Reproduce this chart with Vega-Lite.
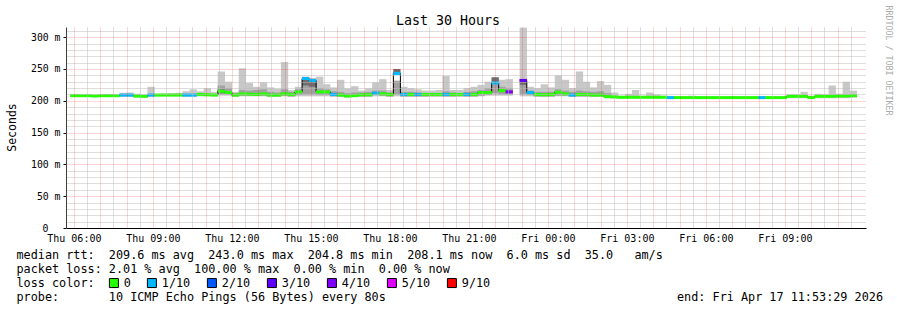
{
  "$schema": "https://vega.github.io/schema/vega-lite/v6.json",
  "width": 800,
  "height": 201,
  "autosize": {"type": "none"},
  "padding": {"left": 66, "top": 27, "right": 31, "bottom": 82},
  "background": "white",
  "title": {"text": "Last 30 Hours", "font": "DejaVu Sans Mono", "fontSize": 13.3, "fontWeight": "normal", "color": "#000000", "anchor": "middle", "frame": "group", "dx": -18, "dy": 24, "offset": 2},
  "config": {"view": {"stroke": null}},
  "data": {"values": [
    {"m":360,"med":208,"lo":206,"hi":210,"l":"0"},
    {"m":376,"med":208,"lo":206,"hi":209,"l":"0"},
    {"m":392,"med":208,"lo":206,"hi":209,"l":"0"},
    {"m":408,"med":207.5,"lo":206,"hi":209,"l":"0"},
    {"m":424,"med":208,"lo":206,"hi":209,"l":"0"},
    {"m":440,"med":208,"lo":206,"hi":210.5,"l":"0"},
    {"m":456,"med":208,"lo":206,"hi":209,"l":"0"},
    {"m":472,"med":209,"lo":206,"hi":212.5,"l":"1/10"},
    {"m":488,"med":209,"lo":206,"hi":213,"l":"1/10"},
    {"m":504,"med":207.5,"lo":205,"hi":211,"l":"0"},
    {"m":520,"med":207,"lo":205,"hi":210,"l":"0"},
    {"m":536,"med":209,"lo":206,"hi":222,"l":"1/10"},
    {"m":552,"med":209,"lo":207,"hi":211,"l":"0"},
    {"m":568,"med":209,"lo":207,"hi":211.5,"l":"0"},
    {"m":584,"med":209,"lo":207,"hi":212,"l":"0"},
    {"m":600,"med":209,"lo":207,"hi":212.5,"l":"0"},
    {"m":616,"med":209,"lo":206,"hi":215,"l":"1/10"},
    {"m":632,"med":209,"lo":206,"hi":218,"l":"1/10"},
    {"m":648,"med":210,"lo":207,"hi":215,"l":"0"},
    {"m":664,"med":209.5,"lo":207,"hi":220,"l":"0"},
    {"m":680,"med":209,"lo":207,"hi":214,"l":"0"},
    {"m":696,"med":215,"lo":208,"hi":246,"mlo":210,"mhi":224,"clo":212,"chi":218,"l":"0"},
    {"m":712,"med":213,"lo":208,"hi":230,"mlo":210,"mhi":220,"l":"0"},
    {"m":728,"med":209,"lo":206,"hi":214,"mlo":207,"mhi":212,"l":"0"},
    {"m":744,"med":211,"lo":207,"hi":251,"mlo":208,"mhi":217,"l":"0"},
    {"m":760,"med":210.5,"lo":207,"hi":228,"mlo":208,"mhi":216,"l":"0"},
    {"m":776,"med":210,"lo":207,"hi":222,"mlo":208,"mhi":217,"l":"0"},
    {"m":792,"med":211,"lo":207,"hi":229,"mlo":208,"mhi":218,"l":"0"},
    {"m":808,"med":209,"lo":206,"hi":221,"mlo":207,"mhi":214,"l":"0"},
    {"m":824,"med":209,"lo":206,"hi":219,"mlo":207,"mhi":213,"l":"0"},
    {"m":840,"med":211,"lo":207,"hi":261,"mlo":208,"mhi":218,"l":"0"},
    {"m":856,"med":210,"lo":206,"hi":217,"mlo":207,"mhi":214,"l":"0"},
    {"m":872,"med":214,"lo":207,"hi":222,"mlo":209,"mhi":218,"l":"0"},
    {"m":888,"med":235,"lo":207,"hi":238,"mlo":210,"mhi":232,"clo":224,"chi":233,"l":"1/10"},
    {"m":904,"med":232,"lo":207,"hi":236,"mlo":210,"mhi":230,"clo":222,"chi":231,"l":"1/10"},
    {"m":920,"med":214,"lo":207,"hi":238,"mlo":209,"mhi":220,"l":"0"},
    {"m":936,"med":214,"lo":207,"hi":226,"mlo":209,"mhi":218,"l":"0"},
    {"m":952,"med":210,"lo":206,"hi":221,"mlo":208,"mhi":215,"l":"1/10"},
    {"m":968,"med":209,"lo":206,"hi":233,"mlo":207,"mhi":214,"l":"0"},
    {"m":984,"med":207.5,"lo":205,"hi":219.5,"mlo":206,"mhi":212,"l":"0"},
    {"m":1000,"med":208,"lo":206,"hi":223,"mlo":207,"mhi":213,"l":"0"},
    {"m":1016,"med":209.5,"lo":206,"hi":216,"mlo":207,"mhi":213,"l":"0"},
    {"m":1032,"med":209.5,"lo":206,"hi":219.5,"mlo":207,"mhi":214,"l":"0"},
    {"m":1048,"med":212,"lo":207,"hi":229,"mlo":209,"mhi":216,"l":"1/10"},
    {"m":1064,"med":211,"lo":207,"hi":234,"mlo":208,"mhi":216,"l":"0"},
    {"m":1080,"med":210,"lo":206,"hi":217,"mlo":207,"mhi":213,"l":"0"},
    {"m":1096,"med":243,"lo":207,"hi":232,"mlo":210,"mhi":231,"clo":243,"chi":250,"l":"1/10"},
    {"m":1112,"med":210,"lo":206,"hi":222,"mlo":207,"mhi":214,"l":"1/10"},
    {"m":1128,"med":210,"lo":206,"hi":220,"mlo":207,"mhi":214,"l":"0"},
    {"m":1144,"med":210,"lo":206,"hi":218,"mlo":207,"mhi":213,"l":"1/10"},
    {"m":1160,"med":210,"lo":206,"hi":216,"mlo":207,"mhi":212,"l":"0"},
    {"m":1176,"med":210,"lo":206,"hi":216,"l":"0"},
    {"m":1192,"med":210,"lo":206,"hi":217,"l":"0"},
    {"m":1208,"med":210,"lo":206,"hi":239,"mlo":207,"mhi":215,"l":"1/10"},
    {"m":1224,"med":210,"lo":206,"hi":217,"mlo":207,"mhi":213,"l":"0"},
    {"m":1240,"med":210,"lo":206,"hi":217,"l":"0"},
    {"m":1256,"med":210,"lo":206,"hi":220,"mlo":207,"mhi":214,"l":"1/10"},
    {"m":1272,"med":210,"lo":206,"hi":222,"mlo":207,"mhi":215,"l":"0"},
    {"m":1288,"med":213,"lo":207,"hi":225,"mlo":208,"mhi":217,"l":"0"},
    {"m":1304,"med":213,"lo":208,"hi":230,"mlo":209,"mhi":220,"l":"0"},
    {"m":1320,"med":228,"lo":208,"hi":236,"mlo":212,"mhi":226,"clo":230,"chi":237,"l":"1/10"},
    {"m":1336,"med":216,"lo":208,"hi":233,"mlo":210,"mhi":222,"l":"0"},
    {"m":1352,"med":214,"lo":208,"hi":234,"mlo":210,"mhi":220,"l":"4/10"},
    {"m":1368,"med":null,"l":null},
    {"m":1384,"med":232,"lo":207,"hi":315,"mlo":210,"mhi":225,"clo":225,"chi":234,"l":"3/10"},
    {"m":1400,"med":213,"lo":207,"hi":222,"mlo":209,"mhi":216,"l":"1/10"},
    {"m":1416,"med":210,"lo":206,"hi":220,"mlo":207,"mhi":214,"l":"0"},
    {"m":1432,"med":209.5,"lo":206,"hi":226,"mlo":207,"mhi":214,"l":"0"},
    {"m":1448,"med":210,"lo":206,"hi":221,"mlo":207,"mhi":214,"l":"0"},
    {"m":1464,"med":213.5,"lo":207,"hi":240,"mlo":208,"mhi":218,"l":"0"},
    {"m":1480,"med":211,"lo":207,"hi":233,"mlo":208,"mhi":216,"l":"0"},
    {"m":1496,"med":209,"lo":206,"hi":220,"mlo":207,"mhi":214,"l":"1/10"},
    {"m":1512,"med":210,"lo":206,"hi":246,"mlo":207,"mhi":216,"l":"0"},
    {"m":1528,"med":210,"lo":206,"hi":230,"mlo":207,"mhi":215,"l":"0"},
    {"m":1544,"med":209,"lo":206,"hi":221,"mlo":207,"mhi":214,"l":"0"},
    {"m":1560,"med":209,"lo":206,"hi":231,"mlo":207,"mhi":215,"l":"0"},
    {"m":1576,"med":206.5,"lo":204,"hi":225,"mlo":205,"mhi":212,"l":"0"},
    {"m":1592,"med":206,"lo":204,"hi":213,"l":"0"},
    {"m":1608,"med":205.5,"lo":204,"hi":208,"l":"0"},
    {"m":1624,"med":205.5,"lo":204,"hi":211,"l":"0"},
    {"m":1640,"med":205.5,"lo":204,"hi":217,"l":"0"},
    {"m":1656,"med":205.5,"lo":204,"hi":208,"l":"0"},
    {"m":1672,"med":205.5,"lo":204,"hi":213,"l":"0"},
    {"m":1688,"med":205.5,"lo":204,"hi":210,"l":"0"},
    {"m":1704,"med":205.5,"lo":204,"hi":208,"l":"0"},
    {"m":1720,"med":205,"lo":204,"hi":207,"l":"1/10"},
    {"m":1736,"med":205,"lo":204,"hi":207,"l":"0"},
    {"m":1752,"med":205,"lo":204,"hi":207,"l":"0"},
    {"m":1768,"med":205,"lo":204,"hi":208,"l":"0"},
    {"m":1784,"med":205,"lo":204,"hi":207,"l":"0"},
    {"m":1800,"med":205,"lo":204,"hi":207,"l":"0"},
    {"m":1816,"med":205,"lo":204,"hi":207,"l":"0"},
    {"m":1832,"med":205,"lo":204,"hi":207,"l":"0"},
    {"m":1848,"med":205,"lo":204,"hi":207,"l":"0"},
    {"m":1864,"med":205,"lo":204,"hi":207.5,"l":"0"},
    {"m":1880,"med":205,"lo":204,"hi":207,"l":"0"},
    {"m":1896,"med":205,"lo":204,"hi":207,"l":"0"},
    {"m":1912,"med":205,"lo":204,"hi":207,"l":"0"},
    {"m":1928,"med":205,"lo":204,"hi":207,"l":"1/10"},
    {"m":1944,"med":205,"lo":204,"hi":207,"l":"0"},
    {"m":1960,"med":205,"lo":204,"hi":207,"l":"0"},
    {"m":1976,"med":205,"lo":204,"hi":207,"l":"0"},
    {"m":1992,"med":207,"lo":204,"hi":210,"l":"0"},
    {"m":2008,"med":207,"lo":204,"hi":210,"l":"0"},
    {"m":2024,"med":207,"lo":204,"hi":214,"l":"0"},
    {"m":2040,"med":205,"lo":204,"hi":208,"l":"0"},
    {"m":2056,"med":207,"lo":204,"hi":211,"l":"0"},
    {"m":2072,"med":207,"lo":204,"hi":210,"l":"0"},
    {"m":2088,"med":207,"lo":204,"hi":224,"l":"0"},
    {"m":2104,"med":207.5,"lo":204,"hi":211,"l":"0"},
    {"m":2120,"med":207.5,"lo":204,"hi":230,"l":"0"},
    {"m":2136,"med":208,"lo":205,"hi":216,"l":"0"}
  ]},
  "resolve": {"axis": {"x": "independent", "y": "independent"}},
  "layer": [
    {
      "mark": {"type": "bar", "width": 7.3, "color": "#c8c8c8", "opacity": 1, "clip": true},
      "encoding": {
        "x": {"field": "m", "type": "quantitative", "scale": {"domain": [353.48, 2153.48], "nice": false, "zero": false},
          "axis": {"orient": "bottom", "values": [390,450,510,570,630,690,750,810,870,930,990,1050,1110,1170,1230,1290,1350,1410,1470,1530,1590,1650,1710,1770,1830,1890,1950,2010,2070,2130],
            "grid": true, "gridColor": "#bcbcbc", "gridDash": [1, 1], "gridWidth": 1, "labels": false, "ticks": false, "domain": false, "title": null, "zindex": 1}},
        "y": {"field": "lo", "type": "quantitative", "scale": {"domain": [0, 316], "nice": false, "zero": true},
          "axis": {"orient": "left", "values": [10,20,30,40,60,70,80,90,110,120,130,140,160,170,180,190,210,220,230,240,260,270,280,290,310],
            "grid": true, "gridColor": "#bcbcbc", "gridDash": [1, 1], "gridWidth": 1, "labels": false, "ticks": false, "domain": false, "title": null, "zindex": 1}},
        "y2": {"field": "hi"}
      }
    },
    {
      "mark": {"type": "bar", "width": 7.3, "color": "#a2a2a2", "opacity": 1, "clip": true},
      "encoding": {
        "x": {"field": "m", "type": "quantitative",
          "axis": {"orient": "bottom", "values": [360,420,480,540,600,660,720,780,840,900,960,1020,1080,1140,1200,1260,1320,1380,1440,1500,1560,1620,1680,1740,1800,1860,1920,1980,2040,2100],
            "grid": true, "gridColor": "#ff0000", "gridOpacity": 0.32, "gridDash": [1, 1], "gridWidth": 1,
            "ticks": false, "labelPadding": 5, "labelFont": "DejaVu Sans Mono", "labelFontSize": 10, "labelColor": "#000000", "labelOverlap": false, "labelFlush": false,
            "labelExpr": "datum.value % 180 == 0 ? (datum.value < 1440 ? 'Thu ' : 'Fri ') + (floor((datum.value % 1440) / 60) < 10 ? '0' : '') + floor((datum.value % 1440) / 60) + ':00' : ''",
            "domainColor": "#000000", "domainWidth": 1,
            "title": ["median rtt:\u00a0\u00a0209.6 ms avg\u00a0\u00a0243.0 ms max\u00a0\u00a0204.8 ms min\u00a0\u00a0208.1 ms now\u00a0\u00a06.0 ms sd\u00a0\u00a035.0\u00a0\u00a0\u00a0am/s",
                      "packet loss: 2.01 % avg\u00a0\u00a0100.00 % max\u00a0\u00a00.00 % min\u00a0\u00a00.00 % now",
                      "loss color:",
                      "probe:\u00a0\u00a0\u00a0\u00a0\u00a0\u00a0\u00a010 ICMP Echo Pings (56 Bytes) every 80s\u00a0\u00a0\u00a0\u00a0\u00a0\u00a0\u00a0\u00a0\u00a0\u00a0\u00a0\u00a0\u00a0\u00a0\u00a0\u00a0\u00a0\u00a0\u00a0\u00a0\u00a0\u00a0\u00a0\u00a0\u00a0\u00a0\u00a0\u00a0\u00a0\u00a0\u00a0\u00a0\u00a0\u00a0\u00a0\u00a0\u00a0\u00a0\u00a0\u00a0\u00a0end: Fri Apr 17 11:53:29 2026"],
            "titleFont": "DejaVu Sans Mono", "titleFontSize": 11.8, "titleFontWeight": "normal", "titleColor": "#000000",
            "titleAlign": "left", "titleBaseline": "alphabetic", "titleX": -50, "titleY": 30, "titleLineHeight": 14, "titleLimit": 2000,
            "zindex": 2}},
        "y": {"field": "mlo", "type": "quantitative",
          "axis": {"orient": "left", "values": [0,50,100,150,200,250,300],
            "grid": true, "gridColor": "#ff0000", "gridOpacity": {"condition": {"test": "datum.value === 0", "value": 0}, "value": 0.32}, "gridDash": [1, 1], "gridWidth": 1,
            "ticks": true, "tickSize": 3, "tickColor": "#000000",
            "labelPadding": {"condition": {"test": "datum.value === 0", "value": 15}, "value": 3},
            "labelFont": "DejaVu Sans Mono", "labelFontSize": 9.8, "labelColor": "#000000",
            "labelExpr": "datum.value == 0 ? '0' : datum.value + ' m'",
            "domainColor": "#404040", "domainWidth": 1,
            "title": "Seconds", "titleFont": "DejaVu Sans Mono", "titleFontSize": 11.5, "titleFontWeight": "normal", "titleColor": "#000000",
            "titleAngle": 270, "titleAlign": "center", "titleBaseline": "middle", "titleX": -54, "titleY": 100,
            "zindex": 2}},
        "y2": {"field": "mhi"}
      }
    },
    {
      "mark": {"type": "bar", "width": 7.3, "color": "#6e6e6e", "opacity": 1, "clip": true},
      "encoding": {
        "x": {"field": "m", "type": "quantitative", "axis": null},
        "y": {"field": "clo", "type": "quantitative", "axis": null},
        "y2": {"field": "chi"}
      }
    },
    {
      "mark": {"type": "line", "interpolate": "step", "color": "#000000", "strokeWidth": 1, "opacity": 1, "clip": true, "invalid": "break-paths-filter-domains"},
      "encoding": {
        "x": {"field": "m", "type": "quantitative", "axis": null},
        "y": {"field": "med", "type": "quantitative",
          "axis": {"orient": "right", "labels": false, "ticks": false, "domain": false, "grid": false,
            "title": "RRDTOOL / TOBI OETIKER", "titleFont": "DejaVu Sans Mono", "titleFontSize": 8.3, "titleFontWeight": "normal", "titleColor": "#ababab",
            "titleAngle": 90, "titleAlign": "left", "titleBaseline": "middle", "titleX": 21, "titleY": -22}}
      }
    },
    {
      "mark": {"type": "tick", "orient": "horizontal", "size": 7.3, "thickness": 3, "opacity": 1, "clip": true},
      "encoding": {
        "x": {"field": "m", "type": "quantitative", "axis": null},
        "y": {"field": "med", "type": "quantitative", "axis": null},
        "color": {"field": "l", "type": "nominal",
          "scale": {"domain": ["0","1/10","2/10","3/10","4/10","5/10","9/10"], "range": ["#26ff00","#00b8ff","#0059ff","#5e00ff","#7e00ff","#dd00ff","#ff0000"]},
          "legend": {"orient": "none", "legendX": 42, "legendY": 250, "direction": "horizontal", "title": null,
            "symbolType": "square", "symbolSize": 81, "symbolStrokeColor": "#000000", "symbolStrokeWidth": 1, "symbolOpacity": 1,
            "labelFont": "DejaVu Sans Mono", "labelFontSize": 11.8, "labelColor": "#000000", "labelOffset": 4, "columnPadding": 14, "padding": 0, "labelLimit": 0,
            "encode": {"symbols": {"update": {"stroke": {"value": "#000000"}, "strokeWidth": {"value": 1}, "opacity": {"value": 1}}}}}}
      }
    }
  ]
}
